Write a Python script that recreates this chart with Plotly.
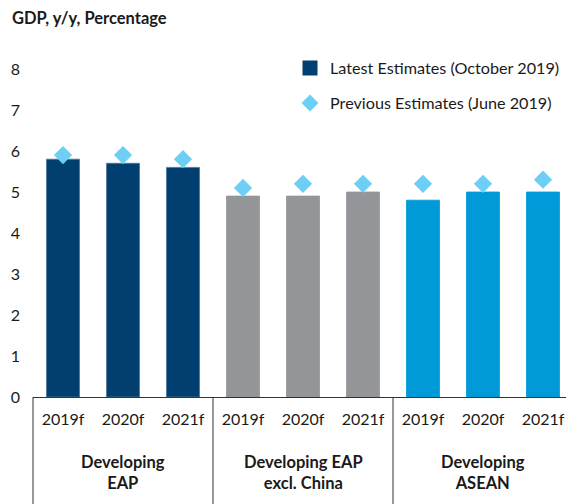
import plotly.graph_objects as go

# GDP growth forecasts (y/y, %) by region and forecast year
groups = ["Developing<br>EAP", "Developing EAP<br>excl. China", "Developing<br>ASEAN"]
years = ["2019f", "2020f", "2021f"]
latest_oct_2019 = [5.8, 5.7, 5.6, 4.9, 4.9, 5.0, 4.8, 5.0, 5.0]
previous_jun_2019 = [5.9, 5.9, 5.8, 5.1, 5.2, 5.2, 5.2, 5.2, 5.3]
y_ticks = [0, 1, 2, 3, 4, 5, 6, 7, 8]

group_colors = ["#003F6F", "#939598", "#009AD9"]
group_edge = ["#4A7599", "#939598", "#009AD9"]
diamond_color = "#6DCFF6"
FONT = "Lato"
TEXT = "#1a1a1a"

n_years = len(years)
positions = list(range(len(groups) * n_years))
tick_text = [y for _ in groups for y in years]
bar_colors = [group_colors[i // n_years] for i in positions]
edge_colors = [group_edge[i // n_years] for i in positions]

fig = go.Figure()

fig.add_trace(go.Bar(
    x=positions, y=latest_oct_2019,
    marker=dict(color=bar_colors, line=dict(color=edge_colors, width=0.8)),
    width=0.55, showlegend=False, hoverinfo="y",
))
fig.add_trace(go.Scatter(
    x=positions, y=previous_jun_2019, mode="markers",
    marker=dict(symbol="diamond", size=14, color=diamond_color),
    showlegend=False, hoverinfo="y",
))

# legend entries
fig.add_trace(go.Scatter(
    x=[None], y=[None], mode="markers", name="Latest Estimates (October 2019)",
    marker=dict(symbol="square", size=15, color=group_colors[0]),
    legendgroup="latest",
))
fig.add_trace(go.Scatter(
    x=[None], y=[None], mode="markers", name="Previous Estimates (June 2019)",
    marker=dict(symbol="diamond", size=13, color=diamond_color),
    legendgroup="previous",
))

W, H = 566, 504
m_l, m_r, m_t, m_b = 33, 0, 69, 107
plot_w = W - m_l - m_r
plot_h = H - m_t - m_b
x_lo = -0.5
x_hi = x_lo + plot_w / 60.0  # about 60 px per forecast year


def to_paper(xv):
    return (xv - x_lo) / (x_hi - x_lo)


# group dividers below the axis
for g in range(len(groups)):
    xb = to_paper(g * n_years - 0.5)
    fig.add_shape(type="line", xref="paper", yref="paper",
                  x0=xb, x1=xb, y0=0, y1=-m_b / plot_h,
                  line=dict(color="#333333", width=1))

# group labels
for g, name in enumerate(groups):
    fig.add_annotation(
        text="<b>" + name + "</b>", x=g * n_years + 1, xref="x",
        y=-(472 - (H - m_b)) / plot_h, yref="paper",
        xanchor="center", yanchor="middle", showarrow=False,
        font=dict(family=FONT, size=16.5, color=TEXT),
    )

fig.update_layout(
    width=W, height=H,
    margin=dict(l=m_l, r=m_r, t=m_t, b=m_b),
    paper_bgcolor="white", plot_bgcolor="white",
    font=dict(family=FONT, size=16, color=TEXT),
    title=dict(text="<b>GDP, y/y, Percentage</b>", x=12 / W, xref="container",
               xanchor="left", y=1 - 18 / H, yref="container", yanchor="middle",
               font=dict(family=FONT, size=16.5, color=TEXT)),
    legend=dict(x=(290 - m_l) / plot_w, xanchor="left", y=1.055, yanchor="top",
                font=dict(family=FONT, size=16.2, color=TEXT),
                tracegroupgap=11, bgcolor="rgba(0,0,0,0)"),
    showlegend=True,
    bargap=0.45,
)
fig.update_xaxes(
    range=[x_lo, x_hi], tickvals=positions, ticktext=tick_text,
    showline=True, linecolor="#333333", linewidth=1, ticks="",
    showgrid=False, zeroline=False, ticklabelstandoff=8,
    tickfont=dict(family=FONT, size=16, color=TEXT),
)
fig.update_yaxes(
    range=[0, 8], tickvals=y_ticks, showgrid=False, zeroline=False,
    showline=False, ticks="", ticklabelstandoff=12,
    tickfont=dict(family=FONT, size=16, color=TEXT),
)

fig.write_html("out.html")
